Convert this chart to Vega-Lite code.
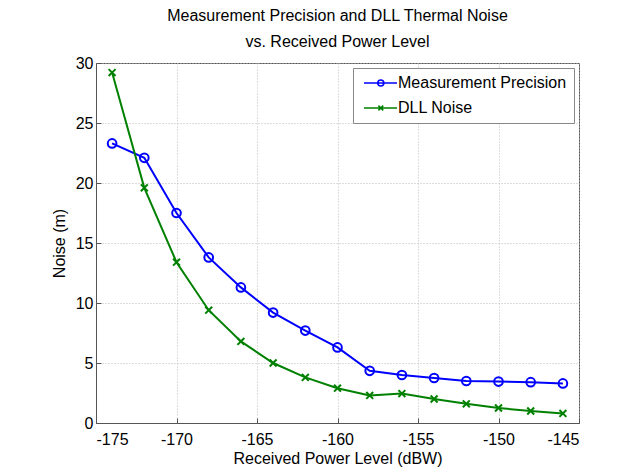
{
  "$schema": "https://vega.github.io/schema/vega-lite/v6.json",
  "width": 483,
  "height": 360,
  "autosize": "none",
  "padding": {"left": 96, "top": 63, "right": 63, "bottom": 49},
  "background": "white",
  "title": {
    "text": ["Measurement Precision and DLL Thermal Noise", "vs. Received Power Level"],
    "font": "Liberation Sans",
    "fontSize": 16,
    "fontWeight": "normal",
    "lineHeight": 26,
    "offset": 5,
    "color": "black"
  },
  "config": {
    "view": {"stroke": "#555", "strokeWidth": 1},
    "font": "Liberation Sans"
  },
  "data": {
    "values": [
      {"p": -174, "v": 23.3, "s": "Measurement Precision"},
      {"p": -172, "v": 22.1, "s": "Measurement Precision"},
      {"p": -170, "v": 17.5, "s": "Measurement Precision"},
      {"p": -168, "v": 13.8, "s": "Measurement Precision"},
      {"p": -166, "v": 11.3, "s": "Measurement Precision"},
      {"p": -164, "v": 9.2, "s": "Measurement Precision"},
      {"p": -162, "v": 7.7, "s": "Measurement Precision"},
      {"p": -160, "v": 6.3, "s": "Measurement Precision"},
      {"p": -158, "v": 4.35, "s": "Measurement Precision"},
      {"p": -156, "v": 4.0, "s": "Measurement Precision"},
      {"p": -154, "v": 3.75, "s": "Measurement Precision"},
      {"p": -152, "v": 3.5, "s": "Measurement Precision"},
      {"p": -150, "v": 3.45, "s": "Measurement Precision"},
      {"p": -148, "v": 3.4, "s": "Measurement Precision"},
      {"p": -146, "v": 3.3, "s": "Measurement Precision"},
      {"p": -174, "v": 29.2, "s": "DLL Noise"},
      {"p": -172, "v": 19.6, "s": "DLL Noise"},
      {"p": -170, "v": 13.4, "s": "DLL Noise"},
      {"p": -168, "v": 9.4, "s": "DLL Noise"},
      {"p": -166, "v": 6.8, "s": "DLL Noise"},
      {"p": -164, "v": 5.0, "s": "DLL Noise"},
      {"p": -162, "v": 3.8, "s": "DLL Noise"},
      {"p": -160, "v": 2.9, "s": "DLL Noise"},
      {"p": -158, "v": 2.3, "s": "DLL Noise"},
      {"p": -156, "v": 2.45, "s": "DLL Noise"},
      {"p": -154, "v": 2.0, "s": "DLL Noise"},
      {"p": -152, "v": 1.6, "s": "DLL Noise"},
      {"p": -150, "v": 1.25, "s": "DLL Noise"},
      {"p": -148, "v": 1.0, "s": "DLL Noise"},
      {"p": -146, "v": 0.8, "s": "DLL Noise"}
    ]
  },
  "encoding": {
    "x": {
      "field": "p", "type": "quantitative",
      "scale": {"domain": [-175, -145], "nice": false, "zero": false},
      "axis": {
        "title": "Received Power Level (dBW)",
        "values": [-175, -170, -165, -160, -155, -150, -145],
        "labelExpr": "replace(datum.label, '−', '-')",
        "titleFont": "Liberation Sans", "titleFontSize": 16, "titleFontWeight": "normal", "titleColor": "black", "titlePadding": 3,
        "labelFont": "Liberation Sans", "labelFontSize": 16, "labelColor": "black", "labelPadding": 13,
        "domainColor": "#555", "tickColor": "#555", "tickSize": -5,
        "gridDash": [1, 2], "gridColor": "#bbb"
      }
    },
    "y": {
      "field": "v", "type": "quantitative",
      "scale": {"domain": [0, 30], "nice": false},
      "axis": {
        "title": "Noise (m)",
        "values": [0, 5, 10, 15, 20, 25, 30],
        "titleFont": "Liberation Sans", "titleFontSize": 16, "titleFontWeight": "normal", "titleColor": "black", "titlePadding": 8,
        "labelFont": "Liberation Sans", "labelFontSize": 16, "labelColor": "black", "labelPadding": 8,
        "domainColor": "#555", "tickColor": "#555", "tickSize": -5,
        "gridDash": [1, 2], "gridColor": "#bbb"
      }
    },
    "color": {
      "field": "s", "type": "nominal",
      "scale": {"domain": ["Measurement Precision", "DLL Noise"], "range": ["#0000ff", "#008000"]},
      "legend": {
        "title": null,
        "orient": "top-right",
        "offset": 5,
        "labelFont": "Liberation Sans", "labelFontSize": 16, "labelColor": "black", "labelLimit": 400,
        "fillColor": "white", "strokeColor": "#888",
        "padding": 7, "rowPadding": 9,
        "symbolStrokeWidth": 1.6, "symbolSize": 64, "labelOffset": 22,
        "symbolOpacity": 1, "symbolFillColor": "transparent"
      }
    }
  },
  "layer": [
    {
      "mark": {"type": "line", "strokeWidth": 2},
      "encoding": {}
    },
    {
      "transform": [{"filter": "datum.s === 'Measurement Precision'"}],
      "mark": {"type": "point", "shape": "circle", "filled": false, "strokeWidth": 2, "size": 75, "opacity": 1},
      "encoding": {}
    },
    {
      "transform": [{"filter": "datum.s === 'DLL Noise'"}],
      "mark": {"type": "point", "shape": "M-0.8,-0.8L0.8,0.8M-0.8,0.8L0.8,-0.8", "filled": false, "strokeWidth": 2, "size": 75, "opacity": 1},
      "encoding": {}
    },
    {
      "mark": {"type": "point", "filled": false, "opacity": 0, "size": 64},
      "encoding": {
        "shape": {
          "field": "s", "type": "nominal",
          "scale": {"domain": ["Measurement Precision", "DLL Noise"], "range": ["M-1,0L7.25,0M2.45,0A0.75,0.75 0 1,1 3.95,0A0.75,0.75 0 1,1 2.45,0", "M-1,0L7.25,0M2.6,-0.6L3.8,0.6M2.6,0.6L3.8,-0.6"]},
          "legend": {
            "title": null,
            "orient": "top-right",
            "offset": 5,
            "labelFont": "Liberation Sans", "labelFontSize": 16, "labelColor": "black", "labelLimit": 400,
            "fillColor": "white", "strokeColor": "#888",
            "padding": 7, "rowPadding": 9,
            "symbolStrokeWidth": 1.6, "symbolSize": 64, "labelOffset": 22,
            "symbolOpacity": 1, "symbolFillColor": "transparent"
          }
        }
      }
    }
  ]
}
